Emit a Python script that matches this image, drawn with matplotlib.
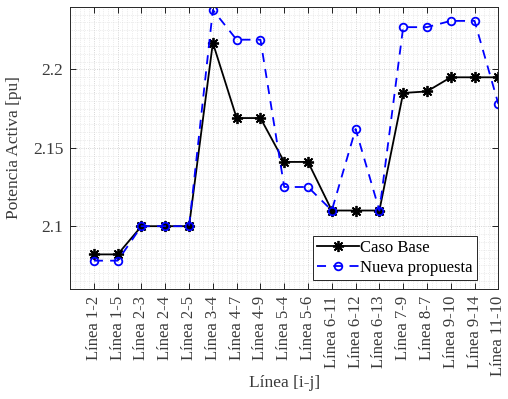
import numpy as np
import matplotlib
matplotlib.use("Agg")
import matplotlib.pyplot as plt
from matplotlib.ticker import MultipleLocator

plt.rcParams['font.family'] = ['Liberation Serif', 'DejaVu Serif']

# Datos
lineas = ['Línea 1-2', 'Línea 1-5', 'Línea 2-3', 'Línea 2-4', 'Línea 2-5',
          'Línea 3-4', 'Línea 4-7', 'Línea 4-9', 'Línea 5-4', 'Línea 5-6',
          'Línea 6-11', 'Línea 6-12', 'Línea 6-13', 'Línea 7-9', 'Línea 8-7',
          'Línea 9-10', 'Línea 9-14', 'Línea 11-10']
caso_base = [2.082, 2.082, 2.100, 2.100, 2.100, 2.217, 2.169, 2.169, 2.141,
             2.141, 2.110, 2.110, 2.110, 2.185, 2.186, 2.195, 2.195, 2.195]
nueva_propuesta = [2.078, 2.078, 2.100, 2.100, 2.100, 2.238, 2.219, 2.219,
                   2.125, 2.125, 2.110, 2.162, 2.110, 2.227, 2.227, 2.231,
                   2.231, 2.178]

x = np.arange(1, len(lineas) + 1)
txt = '#3a3a3a'

fig = plt.figure(figsize=(5.08, 3.99), dpi=100)
ax = fig.add_axes([0.138, 0.276, 0.843, 0.707])

ax.plot(x, caso_base, '-', color='black', lw=1.3, marker=(8, 2, 0),
        markersize=8, markeredgewidth=1.3, label='Caso Base')
ax.plot(x, nueva_propuesta, '--', color=(0, 0, 1), lw=1.3, marker='o',
        markersize=5.5, markerfacecolor='none', markeredgewidth=1.3,
        dashes=(5, 4), label='Nueva propuesta')

ax.set_xlim(0, 18)
ax.set_ylim(2.06, 2.24)
ax.set_xticks(x)
ax.set_xticklabels(lineas, rotation=90, fontsize=12, color=txt)
ax.set_yticks([2.1, 2.15, 2.2])
ax.set_yticklabels(['2.1', '2.15', '2.2'], fontsize=12.5, color=txt)
ax.xaxis.set_minor_locator(MultipleLocator(0.2))
ax.yaxis.set_minor_locator(MultipleLocator(0.005))

ax.tick_params(which='both', direction='in', top=True, right=True)
ax.tick_params(which='major', length=4, width=0.6, pad=5)
ax.tick_params(which='minor', length=0)
ax.grid(which='major', linestyle=':', color='#c8c8c8', lw=0.6)
ax.grid(which='minor', linestyle=':', color='#dcdcdc', lw=0.5)
for s in ax.spines.values():
    s.set_linewidth(0.7)
    s.set_color('#262626')

ax.set_xlabel('Línea [i-j]', fontsize=12.5, color=txt)
ax.xaxis.set_label_coords(0.5, -0.305)
ax.set_ylabel('Potencia Activa [pu]', fontsize=12.5, color=txt)
ax.yaxis.set_label_coords(-0.112, 0.5)

leg = ax.legend(loc='lower right', bbox_to_anchor=(0.950, 0.03), fontsize=12,
                fancybox=False, framealpha=1, edgecolor='#262626',
                borderpad=0.25, handlelength=2.5, handletextpad=0.1,
                labelspacing=0.25, borderaxespad=0)
leg.get_frame().set_linewidth(0.7)

fig.savefig('out.png', dpi=100)
